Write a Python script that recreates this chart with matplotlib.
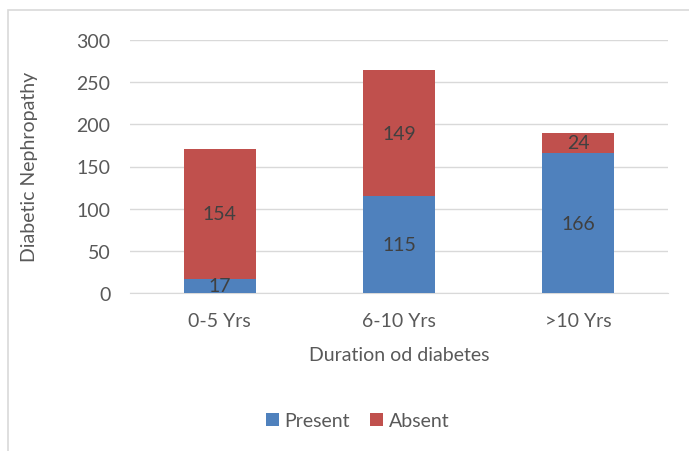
import matplotlib
matplotlib.use("Agg")
import matplotlib.pyplot as plt
from matplotlib.patches import Rectangle
import numpy as np

categories = ["0-5 Yrs", "6-10 Yrs", ">10 Yrs"]
present = [17, 115, 166]
absent = [154, 149, 24]

BLUE = "#4F81BD"
RED = "#C0504D"
TEXT = "#595959"
GRID = "#D9D9D9"
FS = 14

plt.rcParams["font.family"] = ["Lato", "DejaVu Sans"]

fig = plt.figure(figsize=(6.89, 4.52), dpi=100)
fig.patch.set_facecolor("white")

# chart frame
fig.patches.append(Rectangle((8 / 689, -0.2), 1.2, 1 - 11 / 452 + 0.2,
                             transform=fig.transFigure, fill=False,
                             edgecolor="#D9D9D9", linewidth=1.2))

ax = fig.add_axes([130 / 689, 1 - 294 / 452, 538 / 689, 253 / 452])
x = np.arange(len(categories))
width = 0.4
b1 = ax.bar(x, present, width, color=BLUE, label="Present", zorder=3)
b2 = ax.bar(x, absent, width, bottom=present, color=RED, label="Absent", zorder=3)

for xi, p, a in zip(x, present, absent):
    ax.text(xi, p / 2, str(p), ha="center", va="center", fontsize=FS, color="#404040", zorder=4)
    ax.text(xi, p + a / 2, str(a), ha="center", va="center", fontsize=FS, color="#404040", zorder=4)

ax.set_xlim(-0.5, len(categories) - 0.5)
ax.set_ylim(0, 300)
ax.set_yticks(range(0, 301, 50))
ax.set_xticks(x)
ax.set_xticklabels(categories)
ax.tick_params(axis="both", length=0, labelsize=FS, colors=TEXT)
ax.tick_params(axis="x", pad=14)
ax.tick_params(axis="y", pad=14)
ax.yaxis.grid(True, color=GRID, linewidth=1, zorder=0)
for s in ["top", "right", "left"]:
    ax.spines[s].set_visible(False)
ax.spines["bottom"].set_color(GRID)

ax.set_ylabel("Diabetic Nephropathy", fontsize=FS, color=TEXT)
ax.yaxis.label.set_va("center")
ax.yaxis.set_label_coords((30 - 130) / 538, 0.5 + (294 - 167 - 126.5) / 253)
ax.set_xlabel("Duration od diabetes", fontsize=FS, color=TEXT, labelpad=12)

fig.legend(handles=[b1, b2], loc="center", bbox_to_anchor=(357.5 / 689, 1 - 422 / 452),
           ncol=2, frameon=False, fontsize=FS, labelcolor=TEXT,
           handlelength=0.67, handleheight=0.67, handletextpad=0.3, columnspacing=1.0)

fig.savefig("out.png", dpi=100)
